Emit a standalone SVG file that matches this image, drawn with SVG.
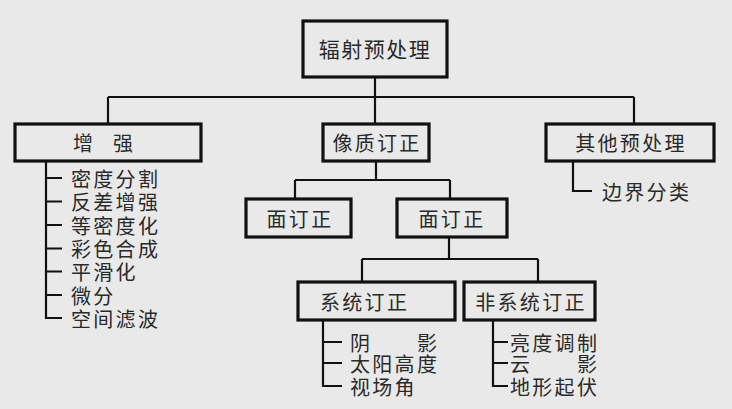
<svg xmlns="http://www.w3.org/2000/svg" width="732" height="409" viewBox="0 0 732 409">
<style>
.bg{fill:#e9e9e9}
.box{fill:#e9e9e9;stroke:#111;stroke-width:3.2}
.ln{fill:none;stroke:#111;stroke-width:2.2}
text{font-family:"Noto Sans CJK SC","Noto Sans",sans-serif;font-size:20px;fill:#2a2a2a;dominant-baseline:central}
.c{text-anchor:middle}
.it{letter-spacing:2.3px}
</style>
<rect class="bg" width="732" height="409"/>
<g id="connectors">
<path class="ln" d="M375 77V97M108 97H634M108 97V124M375 97V124M634 97V124"/>
<path class="ln" d="M376 161V180M295 180H450M295 180V199M450 180V199"/>
<path class="ln" d="M449 237V259M362 259H538M362 259V282M538 259V282"/>
<path class="ln" d="M46 161V318H62M46 178H62M46 201.5H62M46 225H62M46 248.5H62M46 271.5H62M46 295H62"/>
<path class="ln" d="M323 320V386H342M323 342H342M323 363H342"/>
<path class="ln" d="M493 320V386H508M493 342H508M493 363H508"/>
<path class="ln" d="M573 161V191H592"/>
</g>
<g id="root"><rect class="box" x="303" y="21" width="144" height="56"/><text class="c" x="375" y="48" style="font-size:21px;letter-spacing:1.5px">辐射预处理</text></g>
<g id="enhance"><rect class="box" x="15" y="124" width="186" height="37"/><text x="73" y="142.5">增　强</text></g>
<g id="enhance-items">
<text class="it" x="71" y="178">密度分割</text>
<text class="it" x="71" y="201.5">反差增强</text>
<text class="it" x="71" y="225">等密度化</text>
<text class="it" x="71" y="248.5">彩色合成</text>
<text class="it" x="71" y="271.5">平滑化</text>
<text class="it" x="71" y="295">微分</text>
<text class="it" x="71" y="318">空间滤波</text>
</g>
<g id="quality"><rect class="box" x="323" y="124" width="106" height="37"/><text class="c it" x="377" y="142.5">像质订正</text></g>
<g id="other"><rect class="box" x="546" y="124" width="168" height="37"/><text class="c it" x="631" y="142.5">其他预处理</text></g>
<g id="other-items"><text class="it" x="602" y="191">边界分类</text></g>
<g id="face1"><rect class="box" x="246" y="199" width="105" height="38"/><text class="c it" x="300" y="218">面订正</text></g>
<g id="face2"><rect class="box" x="397" y="199" width="110" height="38"/><text class="c it" x="452" y="218">面订正</text></g>
<g id="sys"><rect class="box" x="298" y="282" width="157" height="38"/><text class="it" x="320" y="301">系统订正</text></g>
<g id="sys-items">
<text class="it" x="350" y="342">阴　　影</text>
<text class="it" x="350" y="363">太阳高度</text>
<text class="it" x="350" y="386">视场角</text>
</g>
<g id="nonsys"><rect class="box" x="464" y="282" width="131" height="38"/><text class="c it" x="531" y="301">非系统订正</text></g>
<g id="nonsys-items">
<text class="it" x="510" y="342">亮度调制</text>
<text class="it" x="510" y="363">云　　影</text>
<text class="it" x="510" y="386">地形起伏</text>
</g>
</svg>
